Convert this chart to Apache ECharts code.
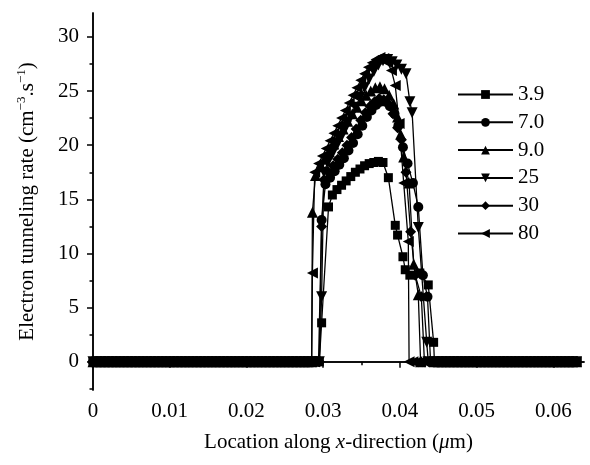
<!DOCTYPE html>
<html>
<head>
<meta charset="utf-8">
<script src="https://cdn.jsdelivr.net/npm/echarts@6/dist/echarts.min.js"></script>
<style>
  html, body { margin: 0; padding: 0; background: #fff; }
  #chart { width: 590px; height: 465px; }
</style>
</head>
<body>
<div id="chart"></div>
<script>
// shared mesh where every curve sits at zero
const bandLeftX = [
  0, 0.0005, 0.001, 0.0015, 0.002, 0.0025, 0.003, 0.0035, 0.004, 0.0045,
  0.005, 0.0055, 0.006, 0.0065, 0.007, 0.0075, 0.008, 0.0085, 0.009, 0.0095,
  0.01, 0.0105, 0.011, 0.0115, 0.012, 0.0125, 0.013, 0.0135, 0.014, 0.0145,
  0.015, 0.0155, 0.016, 0.0165, 0.017, 0.0175, 0.018, 0.0185, 0.019, 0.0195,
  0.02, 0.0205, 0.021, 0.0215, 0.022, 0.0225, 0.023, 0.0235, 0.024, 0.0245,
  0.025, 0.0255, 0.026, 0.0265, 0.027, 0.0275, 0.028
];
const bandLeftRate = [
  0, 0, 0, 0, 0, 0, 0, 0, 0, 0,
  0, 0, 0, 0, 0, 0, 0, 0, 0, 0,
  0, 0, 0, 0, 0, 0, 0, 0, 0, 0,
  0, 0, 0, 0, 0, 0, 0, 0, 0, 0,
  0, 0, 0, 0, 0, 0, 0, 0, 0, 0,
  0, 0, 0, 0, 0, 0, 0
];
const bandRightX = [
  0.0445, 0.045, 0.0455, 0.046, 0.0465, 0.047, 0.0475, 0.048, 0.0485, 0.049,
  0.0495, 0.05, 0.0505, 0.051, 0.0515, 0.052, 0.0525, 0.053, 0.0535, 0.054,
  0.0545, 0.055, 0.0555, 0.056, 0.0565, 0.057, 0.0575, 0.058, 0.0585, 0.059,
  0.0595, 0.06, 0.0605, 0.061, 0.0615, 0.062, 0.0625, 0.063
];
const bandRightRate = [
  0, 0, 0, 0, 0, 0, 0, 0, 0, 0,
  0, 0, 0, 0, 0, 0, 0, 0, 0, 0,
  0, 0, 0, 0, 0, 0, 0, 0, 0, 0,
  0, 0, 0, 0, 0, 0, 0, 0
];

// active region of each curve
const x39 = [0.0285, 0.029, 0.0295, 0.0298, 0.0307, 0.0312, 0.0318, 0.0324, 0.033, 0.0336, 0.0342, 0.0348, 0.0354, 0.036, 0.0366, 0.0372, 0.0378, 0.0385, 0.0394, 0.0397, 0.0404, 0.0407, 0.0413, 0.0426, 0.0437, 0.0444];
const r39 = [0, 0, 0, 3.6, 14.3, 15.4, 15.9, 16.3, 16.7, 17.1, 17.5, 17.8, 18.1, 18.3, 18.4, 18.5, 18.4, 17.0, 12.6, 11.7, 9.7, 8.5, 8.0, 8.2, 7.1, 1.8];

const x70 = [0.0285, 0.029, 0.0294, 0.0298, 0.0303, 0.0309, 0.0315, 0.0321, 0.0327, 0.0333, 0.0339, 0.0345, 0.0351, 0.0357, 0.0363, 0.0369, 0.0375, 0.0381, 0.0387, 0.0393, 0.0398, 0.0404, 0.041, 0.0417, 0.0424, 0.043, 0.0436, 0.044];
const r70 = [0, 0, 0, 13.1, 16.4, 17.0, 17.6, 18.2, 18.8, 19.5, 20.2, 21.0, 21.8, 22.6, 23.2, 23.7, 24.0, 24.0, 23.6, 22.9, 21.8, 19.8, 18.3, 16.5, 14.3, 8.0, 6.0, 0];

const x90 = [0.0285, 0.0286, 0.029, 0.0296, 0.0302, 0.0308, 0.0314, 0.032, 0.0326, 0.0332, 0.0338, 0.0344, 0.035, 0.0356, 0.0362, 0.0368, 0.0374, 0.038, 0.0386, 0.0392, 0.0397, 0.0401, 0.0405, 0.0412, 0.0418, 0.0424, 0.0427];
const r90 = [0, 13.8, 17.2, 18.0, 18.7, 19.4, 20.1, 20.8, 21.5, 22.2, 22.9, 23.5, 24.1, 24.6, 25.0, 25.3, 25.4, 25.2, 24.6, 23.8, 22.6, 21.0, 18.9, 16.5, 9.0, 6.2, 0];

const x25 = [0.0285, 0.029, 0.0295, 0.0298, 0.0301, 0.0306, 0.0312, 0.0318, 0.0324, 0.033, 0.0336, 0.0342, 0.0348, 0.0354, 0.036, 0.0366, 0.0372, 0.0378, 0.0384, 0.039, 0.0396, 0.0402, 0.0408, 0.0413, 0.0416, 0.0424, 0.0435, 0.0437];
const r25 = [0, 0, 0, 6.0, 17.5, 18.4, 19.2, 20.0, 20.8, 21.7, 22.6, 23.5, 24.4, 25.3, 26.1, 26.8, 27.4, 27.8, 27.9, 27.7, 27.4, 27.0, 26.6, 24.0, 23.0, 12.4, 1.8, 0];

const x30 = [0.0285, 0.029, 0.0295, 0.0298, 0.0301, 0.0307, 0.0313, 0.0319, 0.0325, 0.0331, 0.0337, 0.0343, 0.0349, 0.0355, 0.0361, 0.0367, 0.0373, 0.0379, 0.0385, 0.0391, 0.0397, 0.0402, 0.0408, 0.0414, 0.042, 0.0428, 0.0432];
const r30 = [0, 0, 0, 12.5, 16.8, 17.5, 18.1, 18.7, 19.3, 20.0, 20.7, 21.5, 22.3, 23.0, 23.6, 24.0, 24.3, 24.2, 23.8, 22.9, 21.6, 20.5, 17.5, 12.0, 8.0, 6.0, 0];

const x80 = [0.0285, 0.0286, 0.0289, 0.0294, 0.0299, 0.0304, 0.0309, 0.0314, 0.0319, 0.0324, 0.0329, 0.0334, 0.0339, 0.0344, 0.0349, 0.0354, 0.0359, 0.0364, 0.0369, 0.0374, 0.0379, 0.0384, 0.0389, 0.0394, 0.0399, 0.0405, 0.0411, 0.0412, 0.0417, 0.0422, 0.0427, 0.0432, 0.0437, 0.0442];
const r80 = [0, 8.2, 17.5, 18.3, 19.0, 19.7, 20.4, 21.1, 21.8, 22.5, 23.2, 23.9, 24.6, 25.3, 26.0, 26.6, 27.2, 27.6, 27.9, 28.1, 28.0, 27.6, 26.9, 25.5, 22.0, 16.5, 11.1, 0, 0, 0, 0, 0, 0, 0];

const seriesNames = ['3.9', '7.0', '9.0', '25', '30', '80'];
const xMajorTicks = [0, 0.01, 0.02, 0.03, 0.04, 0.05, 0.06];
const xMinorTicks = [0.005, 0.015, 0.025, 0.035, 0.045, 0.055];
const yMajorTicks = [0, 5, 10, 15, 20, 25, 30];
const yMinorTicks = [-2.5, 2.5, 7.5, 12.5, 17.5, 22.5, 27.5];

const FONT = '"Liberation Serif", "Times New Roman", serif';
const FS = 21;

function pairs(xs, ys) {
  return xs.map((x, i) => [x, ys[i]]);
}
function curve(xs, ys) {
  return pairs(bandLeftX, bandLeftRate).concat(pairs(xs, ys), pairs(bandRightX, bandRightRate));
}

const curves = [[x39, r39], [x70, r70], [x90, r90], [x25, r25], [x30, r30], [x80, r80]];
const symbols = [
  'rect',
  'circle',
  'triangle',
  'path://M0,0L10,0L5,10Z',
  'diamond',
  'path://M0,5L10,0L10,10Z'
];
const symbolSizes = [9, 10, 11, 11, 11, 11];

const chart = echarts.init(document.getElementById('chart'), null, { renderer: 'canvas' });

const axisLine = { lineStyle: { color: '#000', width: 1.5 } };

chart.setOption({
  animation: false,
  backgroundColor: '#fff',
  textStyle: { fontFamily: FONT },
  grid: { left: 93, right: 6, top: 13, bottom: 75 },
  legend: {
    orient: 'vertical',
    left: 457,
    top: 84,
    padding: 0,
    itemWidth: 55,
    itemHeight: 11,
    itemGap: 6.8,
    data: seriesNames,
    textStyle: { fontFamily: FONT, fontSize: FS, color: '#000', lineHeight: 20 }
  },
  xAxis: [{
    type: 'value',
    min: 0,
    max: 0.064,
    name: '{n|Location along }{i|x}{n|-direction (}{i|\u03bc}{n|m)}',
    nameLocation: 'middle',
    nameGap: 42,
    nameTextStyle: {
      rich: {
        n: { fontFamily: FONT, fontSize: FS, color: '#000' },
        i: { fontFamily: FONT, fontSize: FS, color: '#000', fontStyle: 'italic' }
      }
    },
    axisLine: axisLine,
    splitLine: { show: false },
    axisTick: { customValues: xMajorTicks, length: 6, lineStyle: { color: '#000', width: 1.5 } },
    axisLabel: {
      customValues: xMajorTicks,
      margin: 11,
      fontFamily: FONT, fontSize: FS, color: '#000',
      formatter: v => String(+v.toFixed(3))
    }
  }, {
    type: 'value',
    min: 0,
    max: 0.064,
    position: 'bottom',
    axisLine: axisLine,
    splitLine: { show: false },
    axisTick: { customValues: xMinorTicks, length: 3.5, lineStyle: { color: '#000', width: 1.5 } },
    axisLabel: { show: false }
  }],
  yAxis: [{
    type: 'value',
    min: -2.6,
    max: 32.2,
    name: 'Electron tunneling rate (cm{s|\u22123}.s{s|\u22121})',
    nameLocation: 'middle',
    nameRotate: 90,
    nameGap: 54,
    nameTextStyle: {
      fontFamily: FONT, fontSize: FS, color: '#000', lineHeight: 24,
      rich: {
        s: { fontFamily: FONT, fontSize: 13, color: '#000', lineHeight: 15, verticalAlign: 'top' }
      }
    },
    axisLine: axisLine,
    splitLine: { show: false },
    axisTick: { customValues: yMajorTicks, length: 6, lineStyle: { color: '#000', width: 1.5 } },
    axisLabel: {
      customValues: yMajorTicks,
      margin: 14,
      fontFamily: FONT, fontSize: FS, color: '#000'
    }
  }, {
    type: 'value',
    min: -2.6,
    max: 32.2,
    position: 'left',
    axisLine: axisLine,
    splitLine: { show: false },
    axisTick: { customValues: yMinorTicks, length: 3.5, lineStyle: { color: '#000', width: 1.5 } },
    axisLabel: { show: false }
  }],
  series: seriesNames.map((name, i) => ({
    name: name,
    type: 'line',
    xAxisIndex: 0,
    yAxisIndex: 0,
    data: curve(curves[i][0], curves[i][1]),
    symbol: symbols[i],
    symbolSize: symbolSizes[i],
    showAllSymbol: true,
    itemStyle: { color: '#000' },
    lineStyle: { color: '#000', width: 1.3 },
    emphasis: { disabled: true }
  }))
});
</script>
</body>
</html>
